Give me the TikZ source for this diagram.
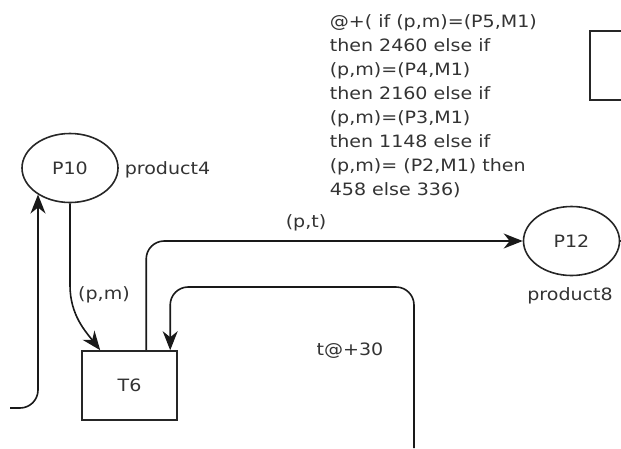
\documentclass[tikz,border=0pt]{standalone}
\usepackage{fontspec}
\setmainfont{DejaVu Sans}[FakeStretch=1.12]
\usetikzlibrary{arrows.meta,shapes.geometric}
\begin{document}
\begin{tikzpicture}[x=1pt,y=-1pt,
  line width=1.6pt,
  every node/.style={font=\fontsize{17}{23.9}\selectfont, text=black!80},
  place/.style={ellipse,draw=black!85,minimum width=96pt,minimum height=69pt,inner sep=0pt},
  trans/.style={rectangle,draw=black!85,minimum width=95pt,minimum height=69pt,inner sep=0pt},
  lbl/.style={inner sep=0pt},
  arc/.style={draw=black!90, rounded corners=18pt, -{Stealth[length=19pt,width=15pt,inset=6pt]}}
]
\clip (0,0) rectangle (621,448);
\useasboundingbox (0,0) rectangle (621,448);

\node[place] (P10) at (70,168) {P10};
\node[place] (P12) at (571.5,241) {P12};
\node[trans] (T6) at (129.5,385.5) {T6};
\node[trans, minimum width=60pt] (T0) at (620,65.5) {};

\node[lbl, anchor=west] (l4) at (124,170) {product4};
\node[lbl] (l8) at (570,296) {product8};
\node[lbl] (lpt) at (306,223) {(p,t)};
\node[lbl] (lpm) at (104,295) {(p,m)};
\node[lbl] (lt) at (350,351) {t@+30};
\node[lbl, anchor=base west, align=left] (expr) at (329,195) {@+( if (p,m)=(P5,M1)\\then 2460 else if\\(p,m)=(P4,M1)\\then 2160 else if\\(p,m)=(P3,M1)\\then 1148 else if\\(p,m)= (P2,M1) then\\458 else 336)};

\coordinate (b0) at (414,448);
\coordinate (b1) at (414,287);
\coordinate (c0) at (10,408);
\coordinate (c1) at (38,194.5);

\draw[arc, rounded corners=0pt] (P10.south) -- ++(0,82) .. controls +(0,30) and +(-14,-18) .. ([xshift=19pt]T6.north west);
\draw[arc] ([xshift=65pt]T6.north west) |- (P12.west);
\draw[arc] (b0) -- (b1) -| ([xshift=89pt]T6.north west);
\draw[arc] (c0) -| (c1);
\draw[draw=black!85] (P12.east) -- ++(10,0);
\end{tikzpicture}
\end{document}
